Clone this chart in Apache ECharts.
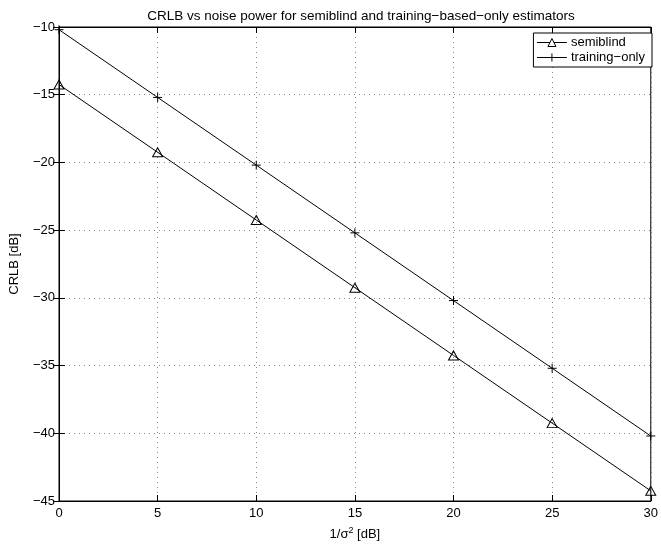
<!DOCTYPE html>
<html>
<head>
<meta charset="utf-8">
<script src="https://cdn.jsdelivr.net/npm/echarts@6/dist/echarts.min.js"></script>
<style>
html,body{margin:0;padding:0;background:#fff;}
#c{width:661px;height:546px;}
</style>
</head>
<body>
<div id="c"></div>
<script>
const xValues = [0, 5, 10, 15, 20, 25, 30];
const semiblind = [-14.25, -19.25, -24.25, -29.25, -34.25, -39.25, -44.25];
const trainingOnly = [-10.2, -15.2, -20.2, -25.2, -30.2, -35.2, -40.2];
const xTicks = [0, 5, 10, 15, 20, 25, 30];
const yTicks = [-45, -40, -35, -30, -25, -20, -15, -10];
const seriesNames = ['semiblind', 'training\u2212only'];
const titleText = 'CRLB vs noise power for semiblind and training\u2212based\u2212only estimators';

const font = 'Liberation Sans, Arial, Helvetica, sans-serif';
const minus = v => String(v).replace('-', '\u2212');
const chart = echarts.init(document.getElementById('c'), null, {renderer: 'canvas'});
const grid = {left: 55, right: 4, top: 27, bottom: 45, show: true, borderColor: '#000', borderWidth: 1, backgroundColor: '#fff'};
const dotted = {show: true, lineStyle: {color: '#888', type: [1, 4], width: 1}};
const plusPath = 'path://M0,5L10,5M5,0L5,10';

chart.setOption({
  animation: false,
  backgroundColor: '#fff',
  title: {
    text: titleText, left: 356, textAlign: 'center', top: 4,
    textStyle: {fontFamily: font, fontSize: 13.5, fontWeight: 'normal', color: '#000'}
  },
  legend: {
    show: true, orient: 'vertical', right: 9, top: 33,
    backgroundColor: '#fff', borderColor: '#000', borderWidth: 1,
    padding: [3, 7, 3, 3], itemGap: 2, itemWidth: 30, itemHeight: 10,
    itemStyle: {color: '#fff', borderColor: '#000', borderWidth: 1},
    lineStyle: {color: '#000', width: 1},
    textStyle: {fontFamily: font, fontSize: 13, color: '#000', padding: [0, 0, 0, -1]},
    data: seriesNames
  },
  grid: grid,
  xAxis: [{
    type: 'value', min: 0, max: 30, interval: 5,
    name: '1/\u03c3{s|2} [dB]', nameLocation: 'middle', nameGap: 25,
    nameTextStyle: {fontFamily: font, fontSize: 13, color: '#000', rich: {s: {fontSize: 9, verticalAlign: 'top', padding: [0, 0, 8, 0], fontFamily: font}}},
    axisLine: {show: true, lineStyle: {color: '#000', width: 1}},
    axisTick: {show: true, inside: true, length: 6, lineStyle: {color: '#000'}},
    axisLabel: {fontFamily: font, fontSize: 13, color: '#000', margin: 6, formatter: minus},
    splitLine: dotted
  }, {
    type: 'value', min: 0, max: 30, interval: 5, position: 'top',
    axisLine: {show: true, lineStyle: {color: '#000', width: 1}},
    axisTick: {show: true, inside: true, length: 6, lineStyle: {color: '#000'}},
    axisLabel: {show: false}, splitLine: {show: false}
  }],
  yAxis: [{
    type: 'value', min: -45, max: -10, interval: 5,
    name: 'CRLB [dB]', nameLocation: 'middle', nameGap: 38,
    nameTextStyle: {fontFamily: font, fontSize: 13, color: '#000'},
    axisLine: {show: true, lineStyle: {color: '#000', width: 1}},
    axisTick: {show: true, inside: true, length: 6, lineStyle: {color: '#000'}},
    axisLabel: {fontFamily: font, fontSize: 13, color: '#000', margin: 4, formatter: minus},
    splitLine: dotted
  }, {
    type: 'value', min: -45, max: -10, interval: 5, position: 'right',
    axisLine: {show: true, lineStyle: {color: '#000', width: 1}},
    axisTick: {show: true, inside: true, length: 6, lineStyle: {color: '#000'}},
    axisLabel: {show: false}, splitLine: {show: false}
  }],
  series: [{
    name: seriesNames[0], type: 'line',
    data: xValues.map((x, i) => [x, semiblind[i]]),
    symbol: 'triangle', symbolSize: [10, 9], showAllSymbol: true,
    lineStyle: {color: '#000', width: 1},
    itemStyle: {color: 'rgba(255,255,255,0)', borderColor: '#000', borderWidth: 1},
    clip: false
  }, {
    name: seriesNames[1], type: 'line',
    data: xValues.map((x, i) => [x, trainingOnly[i]]),
    symbol: plusPath, symbolSize: 9, showAllSymbol: true,
    lineStyle: {color: '#000', width: 1},
    itemStyle: {color: 'none', borderColor: '#000', borderWidth: 1},
    clip: false
  }]
});
</script>
</body>
</html>
